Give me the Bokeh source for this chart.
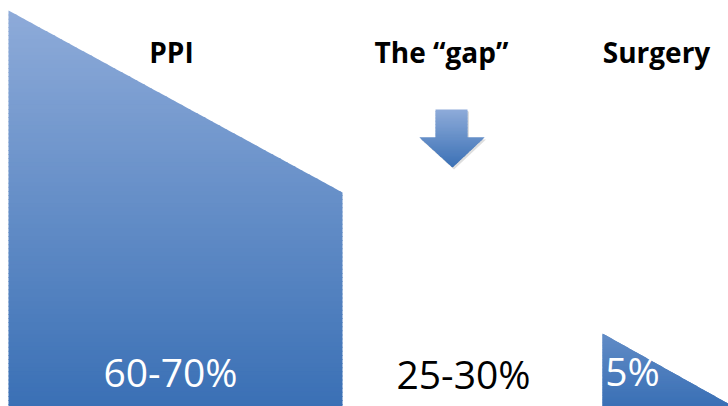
from bokeh.plotting import figure
from bokeh.models import Range1d, ColumnDataSource
from bokeh.core.properties import value
from bokeh.embed import file_html
from bokeh.resources import INLINE

# ---- data ----
categories = ["PPI", "The \u201cgap\u201d", "Surgery"]
shares = ["60-70%", "25-30%", "5%"]

# ---- layout (pixel space, y downward) ----
W, H = 728, 406
ppi_shape_x = [8, 342, 342, 8]
ppi_shape_y = [10, 192, 420, 420]
surg_shape_x = [602, 740, 602]
surg_shape_y = [333, 410, 410]
arrow_x = [435, 467, 467, 484, 452, 419, 435]
arrow_y = [109, 109, 137, 137, 167, 137, 137]

head_x = [171, 441, 656]
head_y = [51, 51, 51]
share_x = [170, 463, 632]
share_y = [371, 373, 370]
share_col = ["white", "black", "white"]


def hex2rgb(h):
    h = h.lstrip("#")
    return tuple(int(h[i:i + 2], 16) for i in (0, 2, 4))


def mix(c0, c1, t):
    a, b = hex2rgb(c0), hex2rgb(c1)
    t = max(0.0, min(1.0, t))
    return "#%02x%02x%02x" % tuple(int(round(a[i] + (b[i] - a[i]) * t)) for i in range(3))


def clip_half(poly, yc, keep_below):
    out = []
    n = len(poly)
    for i in range(n):
        p, q = poly[i], poly[(i + 1) % n]
        pin = (p[1] >= yc) if keep_below else (p[1] <= yc)
        qin = (q[1] >= yc) if keep_below else (q[1] <= yc)
        if pin:
            out.append(p)
        if pin != qin:
            t = (yc - p[1]) / (q[1] - p[1])
            out.append((p[0] + t * (q[0] - p[0]), yc))
    return out


def gradient_strips(xs, ys, y0, y1, c0, c1, n=100):
    poly = list(zip(xs, ys))
    top, bot = min(ys), max(ys)
    pxs, pys, cols = [], [], []
    step = (bot - top) / n
    for k in range(n):
        ya = top + k * step
        yb = min(bot, ya + step + 1.0)
        piece = clip_half(poly, ya, True)
        if piece:
            piece = clip_half(piece, yb, False)
        if len(piece) < 3:
            continue
        pxs.append([pt[0] for pt in piece])
        pys.append([pt[1] for pt in piece])
        cols.append(mix(c0, c1, (ya + step / 2 - y0) / (y1 - y0)))
    return pxs, pys, cols


p = figure(width=W, height=H, output_backend="svg", toolbar_location=None,
           x_range=Range1d(0, W), y_range=Range1d(H, 0), min_border=0)
p.axis.visible = False
p.grid.visible = False
p.outline_line_color = None
p.background_fill_color = "white"
p.border_fill_color = "white"

LIGHT, DARK = "#8eabd9", "#3a70b5"

for xs, ys, y0, y1 in [(ppi_shape_x, ppi_shape_y, 10, 406),
                       (surg_shape_x, surg_shape_y, 250, 406)]:
    gx, gy, gc = gradient_strips(xs, ys, y0, y1, LIGHT, DARK)
    p.patches(gx, gy, fill_color=gc, line_color=None)

# arrow shadow
p.patch([x + 1.5 for x in arrow_x], [y + 2 for y in arrow_y], fill_color="#c8c8c8",
        line_color=None, fill_alpha=0.6)
gx, gy, gc = gradient_strips(arrow_x, arrow_y, 109, 167, LIGHT, DARK, n=40)
p.patches(gx, gy, fill_color=gc, line_color=None)

head_src = ColumnDataSource(dict(x=head_x, y=head_y, t=categories))
p.text("x", "y", text="t", source=head_src, text_font=value("Open Sans"),
       text_font_style="bold", text_font_size="28px", text_align="center",
       text_baseline="alphabetic", text_color="black")

share_src = ColumnDataSource(dict(x=share_x, y=share_y, t=shares, c=share_col))
p.text("x", "y", text="t", source=share_src, text_font=value("Open Sans"),
       text_font_size="39px", text_align="center", text_baseline="alphabetic",
       text_color="c")

open("out.html", "w").write(file_html(p, INLINE))
